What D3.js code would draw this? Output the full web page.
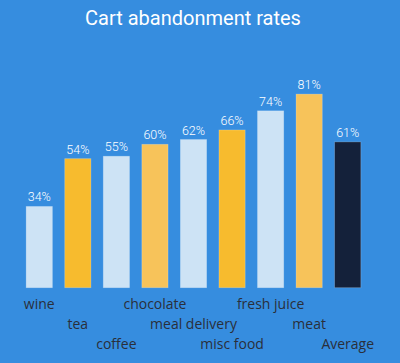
<!DOCTYPE html>
<html>
<head>
<meta charset="utf-8">
<script src="https://cdn.jsdelivr.net/npm/d3@7"></script>
<style>
  body { margin: 0; background: #368ddf; }
</style>
</head>
<body>
<div class="chart"></div>
<script>
var categories = ["wine", "tea", "coffee", "chocolate", "meal delivery", "misc food", "fresh juice", "meat", "Average"];
var rates = [34, 54, 55, 60, 62, 66, 74, 81, 61];
var barColors = ["#cde3f5", "#f7bb2e", "#cde3f5", "#f7c35a", "#cde3f5", "#f7bb2e", "#cde3f5", "#f7c35a", "#14213a"];

var svgWidth = 400;
var svgHeight = 363;

var svg = d3.select(".chart")
    .append("svg")
    .attr("width", svgWidth)
    .attr("height", svgHeight)
    .style("display", "block");

svg.append("rect")
    .attr("width", svgWidth)
    .attr("height", svgHeight)
    .attr("fill", "#368ddf");

var xScale = d3.scaleBand()
    .domain(categories)
    .range([20, 367])
    .paddingInner(0.32)
    .paddingOuter(0.16);

var yScale = d3.scaleLinear()
    .domain([0, 100])
    .range([287.7, 48.7]);

svg.append("text")
    .attr("x", 193)
    .attr("y", 25)
    .attr("text-anchor", "middle")
    .attr("fill", "#ffffff")
    .style("font-family", "Roboto")
    .style("font-size", "20px")
    .text("Cart abandonment rates");

svg.selectAll(".bar")
    .data(rates)
    .enter()
    .append("rect")
    .attr("class", "bar")
    .attr("x", (d, i) => xScale(categories[i]))
    .attr("y", d => yScale(d))
    .attr("width", xScale.bandwidth())
    .attr("height", d => yScale(0) - yScale(d))
    .attr("fill", (d, i) => barColors[i])
    .attr("stroke", "rgba(255,255,255,0.25)")
    .attr("stroke-width", 0.8);

svg.selectAll(".value")
    .data(rates)
    .enter()
    .append("text")
    .attr("class", "value")
    .attr("x", (d, i) => xScale(categories[i]) + xScale.bandwidth() / 2)
    .attr("y", d => yScale(d) - 5)
    .attr("text-anchor", "middle")
    .attr("fill", "#ffffff")
    .style("font-family", "Roboto")
    .style("font-weight", "300")
    .style("font-size", "12.5px")
    .text(d => d + "%");

// category labels staggered on three rows
svg.selectAll(".cat")
    .data(categories)
    .enter()
    .append("text")
    .attr("class", "cat")
    .attr("x", d => xScale(d) + xScale.bandwidth() / 2)
    .attr("y", (d, i) => 309 + (i % 3) * 20)
    .attr("text-anchor", "middle")
    .attr("fill", "#2a2f3a")
    .style("font-family", "Open Sans")
    .style("font-size", "14px")
    .text(d => d);
</script>
</body>
</html>
